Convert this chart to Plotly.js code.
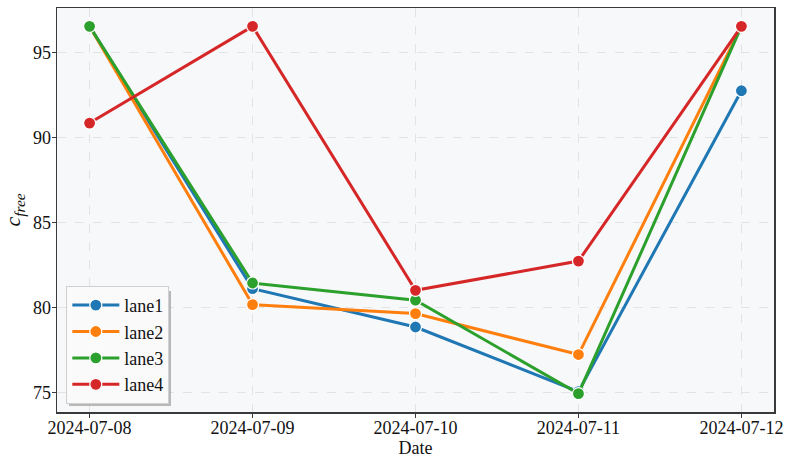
<!DOCTYPE html>
<html>
<head>
<meta charset="utf-8">
<script src="https://cdn.plot.ly/plotly-3.0.1.min.js"></script>
<style>html,body{margin:0;padding:0;background:#fff;}#chart{width:792px;height:469px;}</style>
</head>
<body>
<div id="chart"></div>
<script>
const dates = ["2024-07-08", "2024-07-09", "2024-07-10", "2024-07-11", "2024-07-12"];
const laneNames = ["lane1", "lane2", "lane3", "lane4"];
const lane1 = [96.55, 81.12, 78.86, 75.06, 92.76];
const lane2 = [96.55, 80.18, 79.65, 77.24, 96.55];
const lane3 = [96.55, 81.45, 80.44, 74.94, 96.55];
const lane4 = [90.86, 96.55, 81.02, 82.74, 96.55];
const colors = ["#1f77b4", "#ff7f0e", "#2ca02c", "#d62728"];

const series = [lane1, lane2, lane3, lane4];
const traces = series.map((vals, i) => ({
  type: "scatter",
  mode: "lines+markers",
  x: dates,
  y: vals,
  name: laneNames[i],
  line: {color: colors[i], width: 3},
  marker: {color: colors[i], size: 12, line: {color: "#ffffff", width: 1.2}}
}));

const font = "'Liberation Serif', 'DejaVu Serif', serif";
const layout = {
  width: 792, height: 469,
  margin: {l: 57, r: 18, t: 8, b: 57},
  paper_bgcolor: "#ffffff",
  plot_bgcolor: "#f7f8fa",
  font: {family: font, size: 18, color: "#222"},
  showlegend: true,
  xaxis: {
    type: "category",
    range: [-0.2, 4.2],
    showline: true, mirror: true, linecolor: "#3a3a3a", linewidth: 1.5,
    ticks: "outside", ticklen: 4, tickcolor: "#3a3a3a",
    ticklabelstandoff: -5,
    showgrid: true, gridcolor: "#dcdde0", griddash: "dash", gridwidth: 0.8,
    zeroline: false,
    tickfont: {family: font, size: 18, color: "#111"},
    title: {text: "Date", font: {family: font, size: 18, color: "#111"}, standoff: 0}
  },
  yaxis: {
    range: [73.86, 97.63],
    tickvals: [75, 80, 85, 90, 95],
    showline: true, mirror: true, linecolor: "#3a3a3a", linewidth: 1.5,
    ticks: "outside", ticklen: 4, tickcolor: "#3a3a3a",
    ticklabelstandoff: -3,
    showgrid: true, gridcolor: "#dcdde0", griddash: "dash", gridwidth: 0.8,
    zeroline: false,
    tickfont: {family: font, size: 18, color: "#111"},
    title: {text: "<i>c</i><sub><i>free</i></sub>", font: {family: font, size: 22, color: "#111"}, standoff: 6}
  },
  legend: {
    x: 0.013, y: 0.02, xanchor: "left", yanchor: "bottom",
    bgcolor: "rgba(250,250,250,1)",
    bordercolor: "#d0d0d0", borderwidth: 1,
    font: {family: font, size: 18, color: "#111"},
    itemwidth: 47,
    tracegroupgap: 0
  },
  shapes: [{
    type: "rect", xref: "paper", yref: "paper", layer: "above",
    x0: (69 - 57) / 717, x1: (171 - 57) / 717,
    y0: (412 - 406) / 404, y1: (412 - 291) / 404,
    fillcolor: "#a8a8a8", line: {width: 0}, opacity: 0.8
  }]
};

Plotly.newPlot("chart", traces, layout, {displayModeBar: false, staticPlot: true});
</script>
</body>
</html>
